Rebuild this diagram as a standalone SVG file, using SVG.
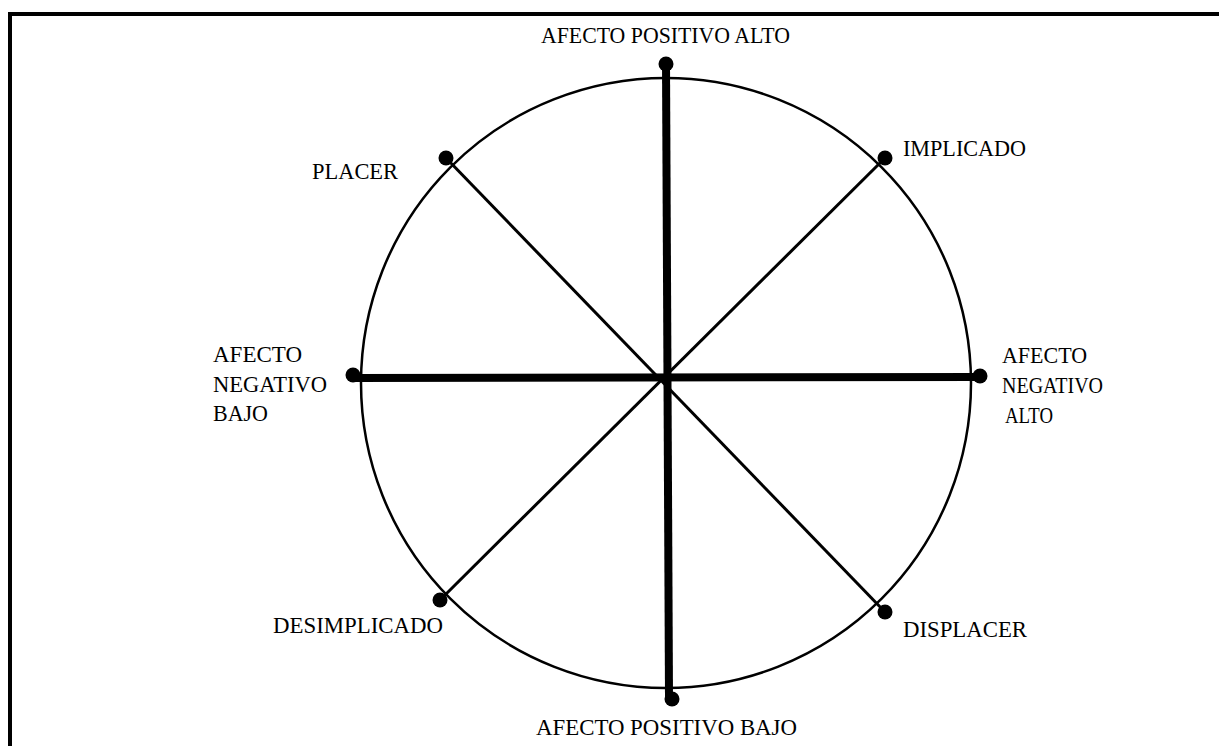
<svg xmlns="http://www.w3.org/2000/svg" width="1219" height="746" viewBox="0 0 1219 746">
<style>
.lbl{font-family:"Liberation Serif","Times New Roman",serif;font-size:24px;fill:#000}
.thick{stroke:#000;stroke-width:8;fill:none}
.thin{stroke:#000;stroke-width:3;fill:none}
.dot{fill:#000}
</style>
<rect width="1219" height="746" fill="#fff"/>
<g id="frame">
<line x1="10" y1="14" x2="1219" y2="14" stroke="#000" stroke-width="4"/>
<line x1="10" y1="12" x2="10" y2="746" stroke="#000" stroke-width="4"/>
</g>
<g id="circle">
<circle cx="666" cy="383" r="305" fill="none" stroke="#000" stroke-width="2.5"/>
</g>
<g id="connectors">
<line class="thick" x1="666" y1="64" x2="669" y2="697"/>
<line class="thick" x1="353" y1="378" x2="980" y2="377"/>
<line class="thin" x1="446" y1="158" x2="885" y2="612"/>
<line class="thin" x1="885" y1="158" x2="440" y2="600"/>
</g>
<g id="n-apa">
<circle class="dot" cx="666" cy="64" r="7.5"/>
<text class="lbl" x="541" y="43" textLength="249" lengthAdjust="spacingAndGlyphs">AFECTO POSITIVO ALTO</text>
</g>
<g id="n-implicado">
<circle class="dot" cx="885" cy="158" r="7.5"/>
<text class="lbl" x="903" y="156" textLength="123" lengthAdjust="spacingAndGlyphs">IMPLICADO</text>
</g>
<g id="n-placer">
<circle class="dot" cx="446" cy="158" r="7.5"/>
<text class="lbl" x="312" y="179" textLength="86" lengthAdjust="spacingAndGlyphs">PLACER</text>
</g>
<g id="n-anb">
<circle class="dot" cx="353" cy="375" r="7.5"/>
<text class="lbl" x="213" y="362" textLength="89" lengthAdjust="spacingAndGlyphs">AFECTO</text>
<text class="lbl" x="213" y="392" textLength="114" lengthAdjust="spacingAndGlyphs">NEGATIVO</text>
<text class="lbl" x="213" y="421" textLength="55" lengthAdjust="spacingAndGlyphs">BAJO</text>
</g>
<g id="n-ana">
<circle class="dot" cx="980" cy="376" r="7.5"/>
<text class="lbl" x="1002" y="363" textLength="85" lengthAdjust="spacingAndGlyphs">AFECTO</text>
<text class="lbl" x="1002" y="393" textLength="101" lengthAdjust="spacingAndGlyphs">NEGATIVO</text>
<text class="lbl" x="1005" y="423" textLength="48" lengthAdjust="spacingAndGlyphs">ALTO</text>
</g>
<g id="n-desimplicado">
<circle class="dot" cx="440" cy="600" r="7.5"/>
<text class="lbl" x="273" y="633" textLength="170" lengthAdjust="spacingAndGlyphs">DESIMPLICADO</text>
</g>
<g id="n-displacer">
<circle class="dot" cx="885" cy="612" r="7.5"/>
<text class="lbl" x="903" y="637" textLength="124" lengthAdjust="spacingAndGlyphs">DISPLACER</text>
</g>
<g id="n-apb">
<circle class="dot" cx="672" cy="699" r="7.5"/>
<text class="lbl" x="536" y="735" textLength="261" lengthAdjust="spacingAndGlyphs">AFECTO POSITIVO BAJO</text>
</g>
</svg>
